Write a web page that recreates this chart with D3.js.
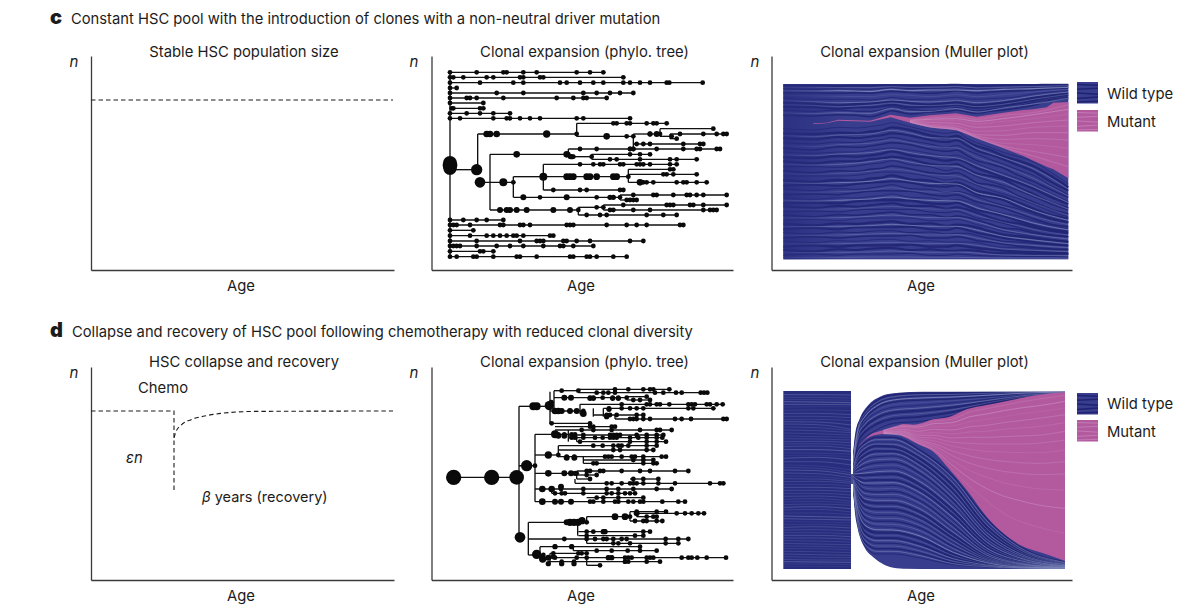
<!DOCTYPE html>
<html><head><meta charset="utf-8">
<script src="https://cdnjs.cloudflare.com/ajax/libs/d3/7.8.5/d3.min.js"></script>
<style>html,body{margin:0;padding:0;background:#fff}svg{display:block}text{font-family:Inter,"Noto Sans",sans-serif;fill:#1c1c1c}</style>
</head><body><svg id="c" width="1200" height="616"></svg>
<script>
// ---------- phylogenetic tree, panel c: [rank, branch start age, [mutation ages]]
const treeCRows = [
[37,60,[60,140,220,230,280,320,440,480,520]],
[52,60,[60,70,100,170,190,270,280,330,340,580]],
[68,60,[60,150,250,280,390,410,450,490,520,580,600,630,660,710,718,818]],
[84,60,[60,80]],
[99,60,[60,200,280,460,500,540,570,610]],
[114,60,[60,110,120,140,220,380,430,460,470,530]],
[129,60,[60,160]],
[145,60,[65,70,150,160]],
[160,60,[60,110,150,190,240]],
[175,60,[60,90,190,230,240,270,300,330,440,460,600]],
[222,143,[440]],
[190,440,[550,560,590,600,650,670,680,710]],
[229,440,[590,610]],
[222,610,[660,690]],
[206,690,[850]],
[229,690,[725]],
[222,720,[750,820,860,880,890]],
[236,720,[740]],
[252,612,[620,640,660,760,810,820]],
[267,610,[600,610,680,760,800,810,860,870]],
[283,180,[415]],
[267,415,[450,500,600,610]],
[290,415,[420,430,485]],
[283,485,[600,630,660]],
[298,485,[540,560,630,720,740,800]],
[367,150,[250]],
[350,250,[340]],
[313,340,[450,490,510,520,570,580,620,630,640,660,720,740]],
[350,340,[595]],
[328,595,[720,730]],
[343,595,[700,710,730,800]],
[367,595,[640,650,670,740,760,770,800,830]],
[390,340,[370,450,470,570,580]],
[412,250,[330,410,500,570]],
[405,570,[610,670,680,730,770,780,800,820,890]],
[420,570,[590,600,610,620]],
[450,180,[445]],
[442,445,[500,520]],
[435,520,[580,710,720,730,780,790,820,890]],
[450,520,[540,550,610,660,820,840,850,860]],
[465,445,[470,510,530,650,700,740]],
[480,60,[60,100,140,170,220]],
[495,60,[60,70,80,120,210,220,270,280,300,410,420,430,530,590,620,650,750,760]],
[511,60,[60,130]],
[527,60,[60,120,170,190,210,230,250,260,280,360,370]],
[543,60,[60,140,270,320,330,340,400,410,440,480,600,640]],
[558,60,[60,70,80,90,140,200,240,280,340,390,400,430,490]],
[574,60,[60,150,160,190]],
[590,60,[60,80,130,140,190,260,270,320,420,430,470,480,500,550,590]]
];
// [age, rank from, rank to]
const treeCLinks = [[60,37,590],[143,222,330],[180,283,450],[440,190,229],[610,222,267],[690,206,229],[720,222,236],[415,267,290],[485,283,298],[250,350,412],[340,313,390],[595,328,367],[570,405,420],[445,442,465],[520,435,450],[60,329,329]];
// [age, rank, size]
const treeCBig = [[60,309,21],[60,316,22],[60,325,20],[140,329,17],[150,367,16],[220,367,12],[170,222,10],[180,222,10],[200,222,10],[350,222,11],[530,229,10],[260,283,10],[410,283,10],[425,290,8],[340,350,12],[410,350,10],[420,350,10],[430,350,10],[470,350,10],[480,350,10],[500,350,10],[550,350,10],[560,350,10],[630,367,10],[280,412,9],[410,412,9],[540,412,8],[550,412,8],[210,450,9],[230,450,9],[240,450,9],[260,450,9],[290,450,9],[370,450,9],[420,450,9],[660,222,8],[680,222,9]];
const treeCStems = [[60,329,140],[143,367,150],[60,329,60]];

// ---------- phylogenetic tree, panel d
const treeDRows = [
[307,71,[260]],
[94,267,[360]],
[47,372,[395,445]],
[43,445,[555,595,640,660,670,718]],
[53,445,[500,520,535,555,675,700,738,755,812,822,832]],
[68,372,[403,423,480,490,518,548,565,590]],
[65,590,[650]],
[75,590,[610,630,660]],
[108,360,[375,385,395,420,440,460]],
[88,450,[575,650,660,680,690,718,775,785,795,830,840,860,878]],
[100,520,[537,575,600,620,640,775,790,850]],
[120,490,[530,540,560,620,640]],
[132,555,[600,610,620,640,660,735,755,783,880,890]],
[145,360,[365,480]],
[155,375,[480,490,545,555]],
[178,315,[375,385,403,425,435]],
[165,375,[455,490,545,630,680,690,725]],
[180,415,[460,540,550,560,570,620,650,680,700]],
[188,440,[460,495,518,540,550,560,600,625,650,680,697]],
[200,440,[450,600,650,680,708]],
[212,385,[490,518,550,565,575,595,650,680]],
[225,385,[550,570,650,670]],
[240,315,[385]],
[245,385,[410,433,525,535,545,575,605,615,640,695,708]],
[265,460,[490,500,640,670,680]],
[255,460,[610,640,670]],
[272,267,[315]],
[295,315,[355,403,423,440]],
[288,440,[470,480,510,520,575,630,660,735,775]],
[300,440,[470,500]],
[312,440,[480]],
[325,435,[530,545,575,600,610,620,640,685,735,840,870,880]],
[312,600,[610,640,685]],
[342,315,[393,460,530,565,610,680,725]],
[355,365,[375,395,405,460,530,545,565,585,600,615]],
[380,315,[393,423,480,490,520,555,565,595,610,630,640,697,745,765]],
[368,470,[500,520,565,640]],
[442,295,[470]],
[425,470,[600]],
[410,600,[620,680,708]],
[415,620,[740,765,785,805,822]],
[438,600,[615,640,650,680,697]],
[425,620,[650,670,680]],
[470,445,[470,490,520,525,640,660]],
[482,445,[470,615,640]],
[492,295,[403,470,495,520,530,550,575,590,707,745,775]],
[505,470,[550,565,600,707,745]],
[515,330,[375,425,630]],
[527,430,[500,545,593,630,680]],
[540,295,[340]],
[548,340,[375,440,470,535,545,585,595,605,650,660,670,755,775,785,802,830,888]],
[535,360,[370,445,455,470]],
[560,355,[395,432,585,650,690]],
[571,470,[510]]
];
const treeDLinks = [[267,94,487],[360,50,145],[372,47,108],[450,88,118],[490,100,125],[555,120,132],[520,100,125],[315,178,380],[415,165,200],[440,188,200],[385,212,245],[460,245,265],[440,288,312],[435,312,325],[365,342,355],[600,410,438],[620,410,425],[295,442,540],[443,442,482],[470,425,442],[470,492,505],[330,515,540],[430,515,527],[340,535,560],[360,535,560],[470,548,571]];
const treeDBig = [[71,307,23],[185,307,23],[260,307,22],[290,272,17],[270,487,16],[310,94,12],[320,94,12],[358,92,14],[364,82,8],[375,108,10],[385,108,10],[395,108,9],[420,108,9],[440,108,9],[460,116,10],[403,68,9],[423,68,9],[480,70,8],[490,70,8],[548,70,8],[565,70,8],[537,103,8],[530,125,8],[375,178,12],[385,182,9],[403,182,9],[425,187,8],[435,187,8],[355,240,11],[410,248,9],[433,248,9],[355,295,10],[403,295,9],[423,295,9],[435,295,8],[337,342,10],[365,342,10],[393,335,9],[337,380,10],[375,380,9],[393,380,9],[423,380,9],[420,442,11],[432,442,11],[444,442,11],[456,437,11],[410,442,9],[555,425,10],[585,425,10],[320,538,14],[338,552,11],[355,548,9],[370,545,8],[355,566,8],[395,566,8],[432,566,8],[375,515,8],[425,515,8],[520,470,8],[525,470,8],[535,548,8],[545,548,8],[585,560,7],[595,560,7],[620,415,9]];
const treeDStems = [[267,272,290]];

// ---------- Muller plots: boundaries and clone borders, read per age sample
const mullerCAges = [40,130,205,260,300,340,365,420,480,530,560,590,620,660,700,745,790,840,895];
const mullerCFineAges = [40,130,205,300,365,420,480,560,620,700,790,895];
const mullerCMutAges = [130,170,205,300,362,420,480,558,620,700,760,790,830,850,895];
const mullerCMutUpper = [160,158,149,152,134,143,136,130,140,128,120,118,112,98,96];
const mullerCMutLower = [162,160,152,155,142,158,172,180,205,235,258,272,290,298,325];
const mullerCTop = 42, mullerCBottom = 568;
const mullerCWild = [
[47,47,48,47,47,46,46,47,46,45,44,46,48,47,46,45,45,44,44],
[56,58,56,57,58,55,53,56,55,54,52,55,56,55,54,53,52,50,48],
[68,68,70,68,70,66,64,67,70,66,62,66,70,66,64,62,60,56,54],
[84,88,88,88,90,86,82,88,88,84,82,86,88,86,84,80,72,66,62],
[98,102,106,102,100,98,94,100,104,100,96,102,106,102,98,92,84,76,70],
[110,112,116,112,112,108,104,112,110,108,104,110,114,110,106,100,92,82,76],
[120,124,120,124,124,118,110,118,122,118,112,118,122,118,112,106,98,88,82],
[136,138,134,136,140,130,122,132,126,124,120,126,130,124,120,114,106,92,86],
[176,180,172,174,170,164,158,170,184,190,186,204,218,232,247,260,275,305,342],
[190,192,188,190,185,180,172,180,196,203,198,214,228,240,258,272,288,316,352],
[205,208,201,204,200,195,190,197,210,216,211,226,242,254,268,286,304,334,362],
[218,222,216,218,212,208,202,212,222,232,226,240,252,268,282,300,316,345,374],
[234,240,230,232,228,222,218,224,238,244,240,256,272,282,294,316,334,358,382],
[246,250,246,246,240,236,234,240,250,258,255,266,280,296,310,326,344,370,394],
[262,264,258,260,256,250,244,256,264,272,268,278,294,308,322,338,356,380,402],
[274,280,274,274,268,264,260,268,282,286,282,296,310,318,328,352,372,396,414],
[290,290,292,288,282,278,272,284,290,302,296,306,320,334,346,362,380,402,420],
[302,308,302,304,298,294,288,296,308,312,308,320,338,344,354,378,396,416,432],
[318,318,318,316,310,306,306,310,320,330,326,334,346,360,372,386,402,424,440],
[330,336,330,332,326,322,316,328,332,342,338,348,362,370,380,398,416,434,446],
[347,344,347,342,338,336,334,338,348,350,346,358,374,382,390,410,426,444,456],
[356,362,356,358,354,348,344,356,358,368,364,370,380,394,406,416,432,448,458],
[374,372,374,368,364,362,362,364,374,378,374,384,396,404,414,430,446,462,470],
[383,388,383,384,380,376,372,382,384,392,388,394,404,420,430,438,452,466,476],
[400,398,400,394,392,390,390,392,400,402,398,408,420,428,438,452,466,478,484],
[409,414,408,410,406,402,400,408,408,416,412,418,428,442,454,460,472,484,490],
[426,423,426,420,418,418,418,418,426,428,424,432,444,450,460,472,484,494,500],
[435,440,434,436,432,428,426,434,434,442,438,442,450,462,474,478,488,496,500],
[452,448,452,446,444,444,444,444,452,452,448,454,464,472,484,490,500,508,514],
[461,466,460,462,458,456,454,462,460,468,464,466,472,484,494,498,504,510,516],
[478,474,478,472,472,472,472,470,478,480,474,480,488,496,504,510,516,522,526],
[487,492,486,488,484,482,482,488,486,492,490,490,496,506,514,516,520,524,528],
[504,500,504,500,498,498,498,496,504,504,500,504,512,516,522,528,532,536,538],
[513,518,512,514,510,508,508,514,512,516,516,516,518,526,532,532,536,538,540],
[530,526,530,526,526,526,526,524,530,530,526,530,534,538,542,544,546,548,550],
[539,544,538,540,536,534,534,540,538,542,542,540,542,548,550,550,552,552,552],
[556,552,556,552,552,552,552,550,556,556,552,554,556,558,558,560,560,560,562]
];
const mullerCFine = [
[52,52,53,53,50,52,52,50,54,52,50,47],
[62,63,62,64,58,62,60,60,62,58,56,52],
[76,78,79,80,74,76,80,74,80,74,66,58],
[92,95,98,96,90,94,96,92,98,92,78,66],
[104,106,110,106,99,105,107,103,110,103,88,73],
[128,131,128,130,116,125,124,116,126,114,102,85],
[196,200,195,192,181,189,203,205,235,263,296,357],
[226,230,224,220,210,218,230,234,262,288,325,378],
[254,257,252,248,239,248,257,264,287,316,350,398],
[282,285,283,275,267,276,286,289,315,337,376,417],
[310,313,310,304,297,303,314,318,342,363,399,436],
[338,340,338,334,326,333,340,342,368,385,421,451],
[365,367,365,361,353,361,366,367,389,410,439,464],
[391,393,391,387,381,387,391,393,413,434,459,480],
[417,418,417,413,409,413,417,418,436,457,478,495],
[443,444,443,439,435,439,443,443,456,479,494,507],
[470,470,469,467,463,466,469,469,480,499,510,521],
[496,496,495,492,490,492,495,494,504,519,526,533],
[522,522,521,519,517,519,521,520,526,537,541,545],
[547,548,547,546,543,545,547,546,549,555,556,556],
[562,562,562,561,561,561,562,562,563,564,564,564]
];
const mullerCMutantAges = [420,480,560,620,700,790,895];
const mullerCMutant = [
[150,144,140,148,136,128,104],
[151,148,146,154,146,134,118],
[152,152,152,162,154,146,132],
[153,157,160,172,168,158,150],
[154,162,168,184,182,172,168],
[155,166,174,194,196,188,188],
[155,168,176,198,208,206,210],
[156,170,178,200,220,224,235],
[157,171,179,203,228,244,262],
[157,171,180,204,232,258,290]
];
const mullerDTopAges = [249,255,270,295,330,370,420,500,885];
const mullerDTop = [230,165,115,75,50,40,36,35,35];
const mullerDBotAges = [249,255,262,270,285,309,335,360,400,500,885];
const mullerDBottom = [324,400,440,471,505,531,550,561,566,567,567];
const mullerDLeft = {from:40,to:243,top:33,bottom:567};
const mullerDBridge = {from:243,to:249,top:282,bottom:312};
const mullerDMutAges = [268,300,340,380,400,430,445,490,540,590,650,700,750,820,885];
const mullerDMutUpper = [196,165,150,138,132,134,132,118,110,88,75,65,55,43,37];
const mullerDMutLower = [197,170,162,163,170,185,193,215,270,330,410,460,495,520,543];
const mullerDLeftAges = [40,140,243];
const mullerDLeftStripes = [[52,52,54],[65,66,68],[82,80,80],[100,100,104],[118,118,122],[132,134,148],[150,152,158],[168,170,172],[185,184,188],[200,198,206],[218,220,222],[235,232,240],[255,258,270],[270,272,285],[288,290,300],[305,304,310],[322,322,326],[340,340,345],[358,356,364],[374,372,376],[390,388,396],[408,410,412],[424,426,428],[442,440,444],[458,458,462],[474,474,478],[490,492,494],[506,506,510],[522,524,526],[538,540,540],[552,552,554],[44,44,45],[58,59,61],[73,73,74],[91,90,92],[109,109,113],[125,126,135],[141,143,153],[159,161,165],[176,177,180],[192,191,197],[209,209,214],[226,226,231],[245,245,255],[262,265,278],[279,281,293],[296,297,305],[313,313,318],[331,331,335],[349,348,354],[366,364,370],[382,380,386],[399,399,404],[416,418,420],[433,433,436],[450,449,453],[466,466,470],[482,483,486],[498,499,502],[514,515,518],[530,532,533],[545,546,547],[559,559,560]];
const mullerDAges = [249,265,285,320,370,450,550,650,750,885];
const mullerDWild = [
[236,134,95,62,45,40,39,37,36,35],
[240,142,104,72,55,48,46,42,38,36],
[244,150,115,84,66,60,56,50,42,37],
[248,160,126,98,82,76,68,58,46,38],
[252,170,140,114,98,92,82,66,50,39],
[256,182,156,132,116,110,96,72,54,40],
[260,192,172,150,130,124,106,76,57,40],
[262,208,188,172,172,210,290,416,500,546],
[265,220,198,186,186,222,302,428,506,548],
[268,232,212,198,200,236,318,440,512,550],
[271,244,226,214,214,250,334,452,518,552],
[274,256,240,230,228,264,348,462,524,554],
[277,266,256,248,246,280,362,472,528,555],
[280,276,272,266,264,296,376,482,532,556],
[283,286,286,284,282,314,392,490,536,557],
[286,296,302,300,300,330,406,500,540,558],
[290,306,316,318,316,346,422,508,544,559],
[293,316,332,336,334,362,436,516,547,560],
[296,328,348,352,352,378,450,522,550,561],
[299,340,364,370,370,396,464,528,552,562],
[302,352,380,388,388,412,476,534,554,562],
[305,364,396,406,406,428,488,538,556,563],
[308,376,412,424,424,444,500,542,558,563],
[311,388,428,440,442,460,512,546,560,564],
[314,400,444,458,458,476,522,550,561,564],
[317,412,460,474,474,492,532,553,562,565],
[320,424,474,490,490,506,540,556,563,565],
[322,436,488,506,506,520,548,558,564,566],
[324,446,498,522,522,534,554,561,565,566]
];
const mullerDFine = [
[238,138,100,67,50,44,43,40,37,36],
[242,146,110,78,60,54,51,46,40,36],
[246,155,120,91,74,68,62,54,44,37],
[250,165,133,106,90,84,75,62,48,38],
[254,176,148,123,107,101,89,69,52,39],
[264,214,193,179,179,216,296,422,503,547],
[267,226,205,192,193,229,310,434,509,549],
[270,238,219,206,207,243,326,446,515,551],
[273,250,233,222,221,257,341,457,521,553],
[276,261,248,239,237,272,355,467,526,554],
[279,271,264,257,255,288,369,477,530,556],
[282,281,279,275,273,305,384,486,534,557],
[285,291,294,292,291,322,399,495,538,558],
[288,301,309,309,308,338,414,504,542,559],
[291,311,324,327,325,354,429,512,546,560],
[295,322,340,344,343,370,443,519,549,561],
[298,334,356,361,361,387,457,525,551,562],
[301,346,372,379,379,404,470,531,553,562],
[304,358,388,397,397,420,482,536,555,563],
[307,370,404,415,415,436,494,540,557,563],
[310,382,420,432,433,452,506,544,559,564],
[313,394,436,449,450,468,517,548,561,564],
[316,406,452,466,466,484,527,552,562,565],
[319,418,467,482,482,499,536,555,563,565],
[321,430,481,498,498,513,544,557,564,566],
[323,441,493,514,514,527,551,560,565,566]
];
const mullerDMutantAges = [340,400,445,490,545,600,650,700,750,800,885];
const mullerDMutant = [
[151,136,136,124,118,96,86,76,66,58,46],
[152,140,141,131,128,110,102,92,84,78,64],
[153,144,147,140,138,125,118,110,102,96,84],
[155,148,154,148,150,140,136,128,122,116,104],
[156,151,160,158,162,156,154,148,144,140,128],
[157,154,166,166,174,172,172,170,168,166,154],
[158,156,172,174,186,190,192,192,192,190,180],
[159,158,176,182,198,208,214,216,218,218,210],
[159,160,180,190,212,228,238,244,248,250,245],
[160,163,183,196,226,250,264,274,280,284,282],
[160,165,186,202,240,272,292,308,318,326,330],
[161,166,189,208,254,296,326,348,362,374,385],
[161,168,191,212,266,320,362,400,424,440,460]
];
const legendStripes = [[12,15],[35,30],[52,58],[78,72],[95,92]];

// ---------- text
const panelC = {letter:"c",title:"Constant HSC pool with the introduction of clones with a non-neutral driver mutation"};
const panelD = {letter:"d",title:"Collapse and recovery of HSC pool following chemotherapy with reduced clonal diversity"};
const columnTitlesC = ["Stable HSC population size","Clonal expansion (phylo. tree)","Clonal expansion (Muller plot)"];
const columnTitlesD = ["HSC collapse and recovery","Clonal expansion (phylo. tree)","Clonal expansion (Muller plot)"];
const legendLabels = ["Wild type","Mutant"];
// population curve, panel d: [age, n]
const popRecovery = [[83,0.66],[85,0.74],[90,0.82],[100,0.89],[115,0.94],[130,0.97],[165,0.995],[302,1]];

const svg = d3.select("#c");
const NAVY="#383d8d", DEEP="#292d7e", DARK="#1e2270", LIGHT="#7f8abb", PINK="#b35a9f", PINKL="#cb90c2", AX="#3a3a3a", FS=14.8;

const defs=svg.append("defs");
const grad=defs.append("linearGradient").attr("id","fadeLeft");
grad.append("stop").attr("offset","0%").attr("stop-color",DEEP).attr("stop-opacity",0.75);
grad.append("stop").attr("offset","100%").attr("stop-color",DEEP).attr("stop-opacity",0);

function panelAxes(x0,x1,y0,y1){
  const x=d3.scaleLinear().domain([0,1]).range([x0,x1]);
  const y=d3.scaleLinear().domain([0,1]).range([y1,y0]);
  const g=svg.append("g");
  g.append("g").attr("transform",`translate(0,${y1})`).call(d3.axisBottom(x).tickValues([]).tickSizeOuter(0));
  g.append("g").attr("transform",`translate(${x0},0)`).call(d3.axisLeft(y).tickValues([]).tickSizeOuter(0));
  g.selectAll(".domain").attr("stroke",AX).attr("stroke-width",1.3);
}
const layout=[{x0:91,x1:394,cx:244,nx:74},{x0:431.5,x1:733,cx:584.5,nx:414},{x0:771.5,x1:1072,cx:924.5,nx:755}];
function row(ytop,ybot,titleY,nY,ageY,titles){
  layout.forEach((p,i)=>{
    panelAxes(p.x0,p.x1,ytop,ybot);
    svg.append("text").attr("x",p.cx).attr("y",titleY).attr("text-anchor","middle").attr("font-size",FS).text(titles[i]);
    svg.append("text").attr("x",p.nx).attr("y",nY).attr("text-anchor","middle").attr("font-size",15).attr("font-style","italic").text("n");
    svg.append("text").attr("x",[241,581,921][i]).attr("y",ageY).attr("text-anchor","middle").attr("font-size",FS).text("Age");
  });
}
row(56,270,57,67,291,columnTitlesC);
row(367,580,367,378,601,columnTitlesD);

function head(p,y,xL,xT){
  svg.append("text").attr("x",xL).attr("y",y).attr("font-size",20).attr("font-weight",900).text(p.letter);
  svg.append("text").attr("x",xT).attr("y",y).attr("font-size",14.75).text(p.title);
}
head(panelC,24,50,71);
head(panelD,337,50,72);

// population panels
function dashed(g,pts,x,y){
  g.append("path").attr("fill","none").attr("stroke","#1c1c1c").attr("stroke-width",1.1).attr("stroke-dasharray","4.5,3")
   .attr("d",d3.line().x(d=>x(d[0])).y(d=>y(d[1])).curve(d3.curveLinear)(pts));
}
{
  const x=d3.scaleLinear().domain([0,302]).range([91,393]);
  const yc=d3.scaleLinear().domain([0,1]).range([270,100]);
  dashed(svg,[[0,1],[302,1]],x,yc);
  const yd=d3.scaleLinear().domain([0,1]).range([490,411]);
  dashed(svg,[[0,1],[83,1],[83,0]],x,yd);
  svg.append("path").attr("fill","none").attr("stroke","#1c1c1c").attr("stroke-width",1.1).attr("stroke-dasharray","4.5,3")
    .attr("d",d3.line().x(d=>x(d[0])).y(d=>yd(d[1])).curve(d3.curveMonotoneX)(popRecovery));
  svg.append("text").attr("x",138).attr("y",393).attr("font-size",FS).text("Chemo");
  svg.append("text").attr("x",126).attr("y",463).attr("font-size",FS).attr("font-style","italic").text("εn");
  const t=svg.append("text").attr("x",202).attr("y",502).attr("font-size",14.5);
  t.append("tspan").attr("font-style","italic").text("β");
  t.append("tspan").text(" years (recovery)");
}

// trees
function tree(rows,links,big,stems,yRange){
  const x=d3.scaleLinear().domain([0,900]).range([430,730]);
  const y=d3.scaleLinear().domain([0,630]).range(yRange);
  const g=svg.append("g");
  const line=(x1,y1,x2,y2)=>g.append("line").attr("x1",x(x1)).attr("y1",y(y1)).attr("x2",x(x2)).attr("y2",y(y2)).attr("stroke","#111").attr("stroke-width",1.35);
  rows.forEach(r=>line(r[1],r[0],d3.max(r[2]),r[0]));
  links.forEach(l=>line(l[0],l[1],l[0],l[2]));
  stems.forEach(s=>line(s[0],s[1],s[2],s[1]));
  rows.forEach(r=>g.selectAll(null).data(r[2]).join("circle").attr("cx",d=>x(d)).attr("cy",y(r[0])).attr("r",2.4).attr("fill","#0a0a0a"));
  g.selectAll(null).data(big).join("circle").attr("cx",d=>x(d[0])).attr("cy",d=>y(d[1])).attr("r",d=>x(d[2])-x(0)).attr("fill","#0a0a0a");
}
tree(treeCRows,treeCLinks,treeCBig,treeCStems,[60,270]);
tree(treeDRows,treeDLinks,treeDBig,treeDStems,[375,585]);

// muller helpers
const W=[0.8,1.1,0.6,0.9], O=[0.55,0.85,0.4,0.7,0.5];
function stripes(g,ages,rows,x,y,color,width,opacity,dark){
  const ln=d3.line().x((d,i)=>x(ages[i])).y(d=>y(d)).curve(d3.curveMonotoneX);
  if(dark) g.selectAll(null).data(rows).join("path").attr("d",ln).attr("fill","none").attr("stroke",dark).attr("stroke-width",(d,i)=>[2,1,1.5,0.8,2.3][i%5]).attr("stroke-opacity",0.85);
  if(color) g.selectAll(null).data(rows).join("path").attr("d",ln).attr("fill","none").attr("stroke",color)
   .attr("stroke-width",(d,i)=>W[i%4]*width).attr("stroke-opacity",(d,i)=>O[i%5]*opacity);
}
// panel c muller
{
  const x=d3.scaleLinear().domain([0,900]).range([770,1070]);
  const y=d3.scaleLinear().domain([0,600]).range([70,270]);
  const g=svg.append("g");
  g.append("rect").attr("x",x(40)).attr("y",y(mullerCTop)).attr("width",x(895)-x(40)).attr("height",y(mullerCBottom)-y(mullerCTop)).attr("fill",NAVY);
  stripes(g,mullerCAges,mullerCWild,x,y,null,1,1,DARK);
  stripes(g,mullerCFineAges,mullerCFine,x,y,LIGHT,1,1);
  g.append("rect").attr("x",x(40)).attr("y",y(mullerCTop)).attr("width",x(230)-x(40)).attr("height",y(mullerCBottom)-y(mullerCTop)).attr("fill","url(#fadeLeft)");
  const area=d3.area().x((d,i)=>x(mullerCMutAges[i])).y0(d=>y(d[0])).y1(d=>y(d[1])).curve(d3.curveLinear);
  g.append("path").datum(mullerCMutUpper.map((u,i)=>[u,mullerCMutLower[i]])).attr("d",area).attr("fill",PINK);
  stripes(g,mullerCMutantAges,mullerCMutant,x,y,PINKL,0.9,0.8);
}
// panel d muller
{
  const x=d3.scaleLinear().domain([0,900]).range([770,1070]);
  const y=d3.scaleLinear().domain([0,600]).range([380,580]);
  const g=svg.append("g");
  g.append("rect").attr("x",x(mullerDLeft.from)).attr("y",y(mullerDLeft.top)).attr("width",x(mullerDLeft.to)-x(mullerDLeft.from)).attr("height",y(mullerDLeft.bottom)-y(mullerDLeft.top)).attr("fill",DEEP);
  g.append("rect").attr("x",x(mullerDBridge.from)).attr("y",y(mullerDBridge.top)).attr("width",x(mullerDBridge.to)-x(mullerDBridge.from)).attr("height",y(mullerDBridge.bottom)-y(mullerDBridge.top)).attr("fill","#4a4f8e");
  stripes(g,mullerDLeftAges,mullerDLeftStripes,x,y,LIGHT,0.7,0.75);
  // boundary of the recovering pool, closed around both edges
  const lt=d3.line().x(d=>x(d[0])).y(d=>y(d[1])).curve(d3.curveMonotoneX);
  const topPts=mullerDTopAges.map((a,i)=>[a,mullerDTop[i]]);
  const botPts=mullerDBotAges.map((a,i)=>[a,mullerDBottom[i]]);
  const dOut=lt(topPts)+"L"+lt(botPts.slice().reverse()).slice(1)+"Z";
  defs.append("clipPath").attr("id","dBand").append("path").attr("d",dOut);
  g.append("path").attr("d",dOut).attr("fill",NAVY);
  const inner=g.append("g").attr("clip-path","url(#dBand)");
  stripes(inner,mullerDAges,mullerDWild,x,y,null,1,1,DARK);
  stripes(inner,mullerDAges,mullerDFine,x,y,LIGHT,0.9,1);
  const area=d3.area().x((d,i)=>x(mullerDMutAges[i])).y0(d=>y(d[0])).y1(d=>y(d[1])).curve(d3.curveMonotoneX);
  g.append("path").datum(mullerDMutUpper.map((u,i)=>[u,mullerDMutLower[i]])).attr("d",area).attr("fill",PINK);
  stripes(g,mullerDMutantAges,mullerDMutant,x,y,PINKL,0.8,0.85);
}
// legends
function legend(y0,y1,textY0,textY1){
  const s=d3.scaleLinear().domain([0,100]).range([0,21]);
  const g=svg.append("g").attr("transform",`translate(1077,0)`);
  g.append("rect").attr("y",y0).attr("width",21).attr("height",21.5).attr("fill",NAVY);
  g.selectAll(null).data(legendStripes).join("line").attr("x1",0).attr("x2",21).attr("y1",d=>y0+s(d[0])).attr("y2",d=>y0+s(d[1])).attr("stroke",DARK).attr("stroke-width",1.5);
  g.append("rect").attr("y",y1).attr("width",21).attr("height",21.5).attr("fill",PINK);
  g.selectAll(null).data(legendStripes).join("line").attr("x1",0).attr("x2",21).attr("y1",d=>y1+s(d[0])).attr("y2",d=>y1+s(d[1])).attr("stroke",PINKL).attr("stroke-width",0.6);
  svg.append("text").attr("x",1107).attr("y",textY0).attr("font-size",FS).text(legendLabels[0]);
  svg.append("text").attr("x",1107).attr("y",textY1).attr("font-size",FS).text(legendLabels[1]);
}
legend(82,110,99,127);
legend(393,420,409,437);
</script></body></html>
